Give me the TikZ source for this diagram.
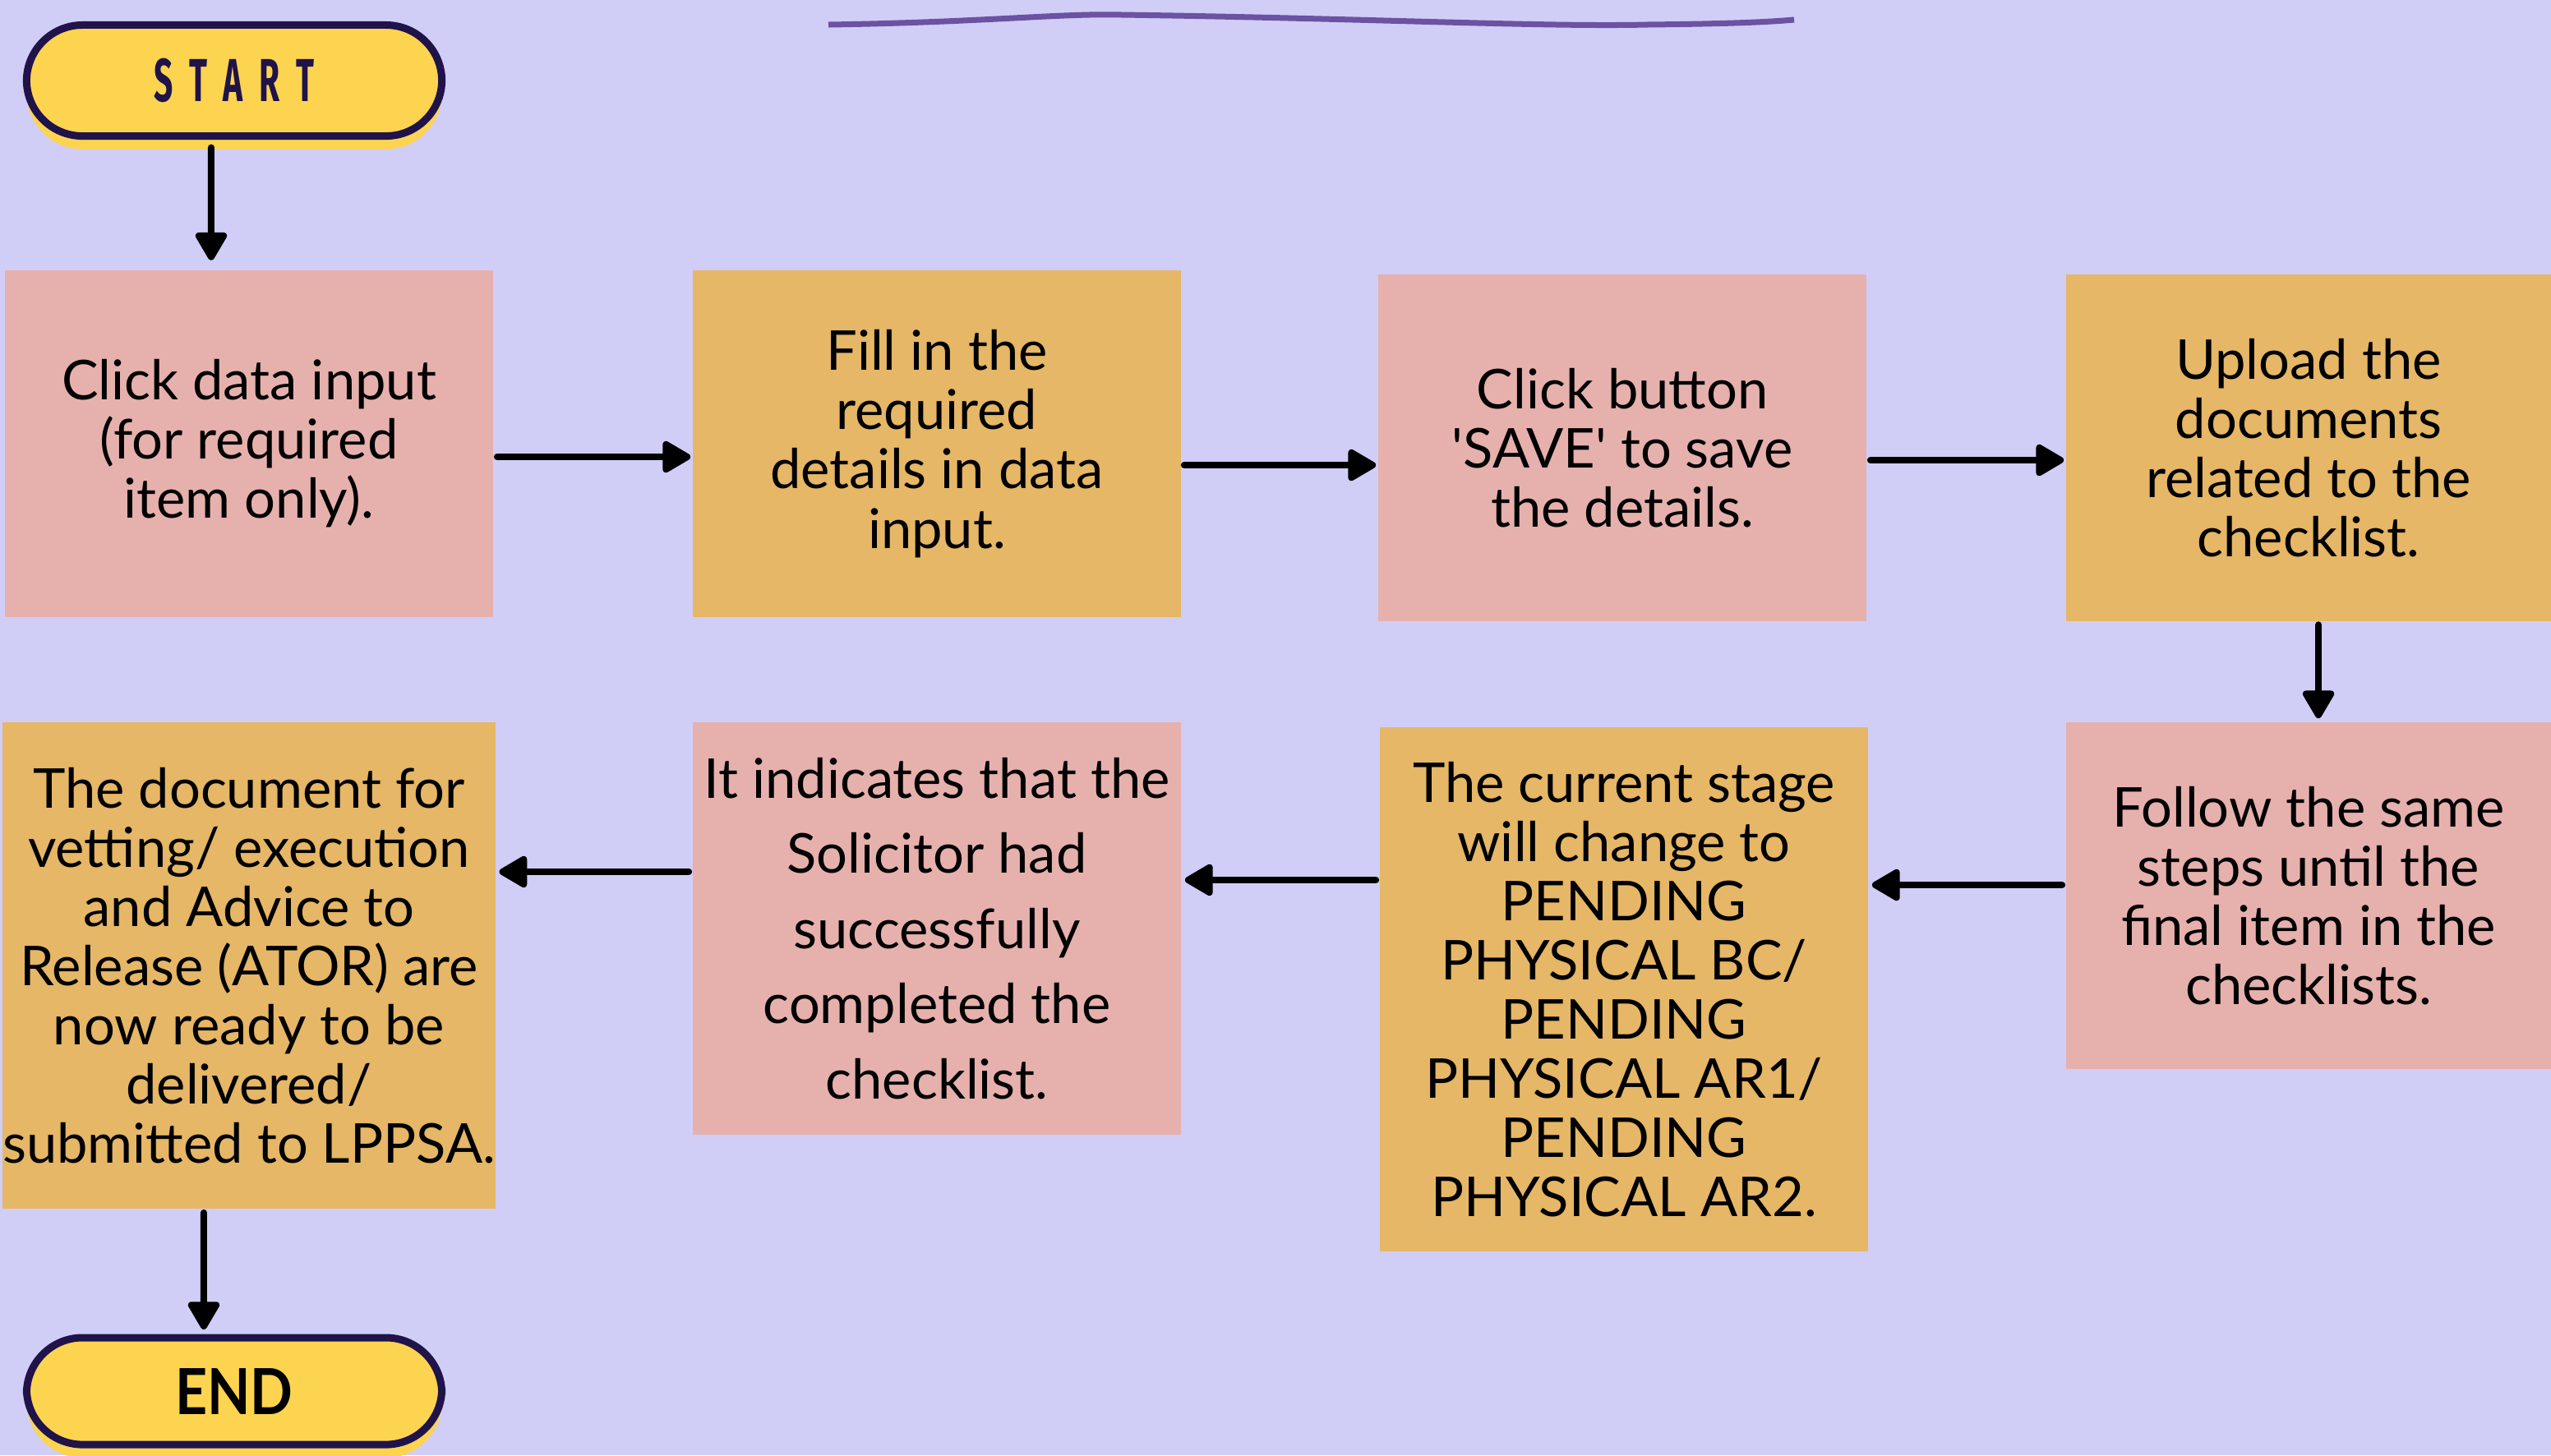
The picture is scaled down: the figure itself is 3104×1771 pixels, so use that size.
\documentclass[tikz,border=0pt]{standalone}
\usepackage{fontspec}
\setmainfont{Lato}
\newfontfamily\startfont[FakeStretch=0.55,LetterSpace=28]{Fira Sans}
\newfontfamily\endfont[FakeStretch=0.88]{Lato}
\usetikzlibrary{arrows.meta,shadows}
\definecolor{bgpurple}{HTML}{D0CEF7}
\definecolor{boxpink}{HTML}{E6B1AD}
\definecolor{boxorange}{HTML}{E5B766}
\definecolor{capyellow}{HTML}{FDD44F}
\definecolor{capnavy}{HTML}{20134A}
\definecolor{wavepurple}{HTML}{6B52A2}
\tikzset{
  capsule/.style={draw=capnavy, line width=0.09cm, fill=capyellow,
    rounded corners=0.68cm, minimum width=5.05cm, minimum height=1.35cm,
    drop shadow={shadow xshift=0cm, shadow yshift=-0.16cm, fill=capyellow, opacity=1}},
  stepbox/.style={inner sep=0pt, align=center, font=\fontsize{19}{20.5}\selectfont},
  pinkbox/.style={stepbox, fill=boxpink},
  orangebox/.style={stepbox, fill=boxorange},
  flowarrow/.style={-{Triangle[width=0.42cm,length=0.38cm,round]}, line width=0.08cm, line cap=round}
}
\begin{document}
\begin{tikzpicture}[x=0.01cm, y=-0.01cm]
  \useasboundingbox (0,0) rectangle (3104,1771);
  \fill[bgpurple] (0,0) rectangle (3104,1771);
  \draw[wavepurple, line width=0.07cm] (1008,30) .. controls (1200,27) and (1290,16) .. (1365,18)
    .. controls (1650,22) and (1880,33) .. (2003,30) .. controls (2100,29) and (2150,27) .. (2183,24);
  % terminals
  \node[capsule, text=capnavy, font=\startfont\bfseries\fontsize{21}{21}\selectfont] (start) at (285,98) {START};
  \node[capsule, minimum height=1.30cm, font=\endfont\bfseries\fontsize{22}{22}\selectfont] (finish) at (285,1693) {END};
  % top row
  \node[pinkbox, minimum width=5.94cm, minimum height=4.21cm] (input) at (303,540)
    {Click data input\\(for required\\item only).};
  \node[orangebox, minimum width=5.94cm, minimum height=4.21cm] (fill) at (1140,540)
    {Fill in the\\required\\details in data\\input.};
  \node[pinkbox, minimum width=5.94cm, minimum height=4.21cm] (save) at (1974,545)
    {Click button\\\textquotesingle SAVE\textquotesingle{} to save\\the details.};
  \node[orangebox, minimum width=5.90cm, minimum height=4.21cm] (upload) at (2809,545)
    {Upload the\\documents\\related to the\\checklist.};
  % bottom row
  \node[pinkbox, minimum width=5.90cm, minimum height=4.22cm] (repeat) at (2809,1090)
    {Follow the same\\steps until the\\final item in the\\checklists.};
  \node[orangebox, minimum width=5.94cm, minimum height=6.38cm] (stage) at (1976,1204)
    {The current stage\\will change to\\PENDING\\PHYSICAL BC/\\PENDING\\PHYSICAL AR1/\\PENDING\\PHYSICAL AR2.};
  \node[pinkbox, minimum width=5.94cm, minimum height=5.01cm, font=\fontsize{19}{26}\selectfont] (done) at (1140,1130)
    {It indicates that the\\Solicitor had\\successfully\\completed the\\checklist.};
  \node[orangebox, minimum width=5.94cm, minimum height=5.92cm] (ready) at (303,1175)
    {The document for\\vetting/ execution\\and Advice to\\Release (ATOR) are\\now ready to be\\delivered/\\submitted to LPPSA.};
  % arrows
  \draw[flowarrow] ([xshift=-0.28cm,yshift=-0.095cm]start.south) -- ([xshift=-0.46cm,yshift=0.12cm]input.north);
  \draw[flowarrow] ([xshift=0.04cm,yshift=-0.16cm]input.east) -- ([xshift=-0.02cm,yshift=-0.16cm]input.east -| fill.west);
  \draw[flowarrow] ([xshift=0.03cm,yshift=-0.26cm]fill.east) -- ([xshift=-0.02cm,yshift=-0.26cm]fill.east -| save.west);
  \draw[flowarrow] ([xshift=0.04cm,yshift=-0.15cm]save.east) -- ([xshift=-0.02cm,yshift=-0.15cm]save.east -| upload.west);
  \draw[flowarrow] ([xshift=0.12cm,yshift=-0.04cm]upload.south) -- ([xshift=0.12cm,yshift=0.04cm]repeat.north);
  \draw[flowarrow] ([xshift=-0.04cm,yshift=0.13cm]repeat.west) -- ([xshift=0.04cm,yshift=0.13cm]repeat.west -| stage.east);
  \draw[flowarrow] ([xshift=-0.04cm,yshift=1.33cm]stage.west) -- ([xshift=0.04cm,yshift=1.33cm]stage.west -| done.east);
  \draw[flowarrow] ([xshift=-0.04cm,yshift=0.69cm]done.west) -- ([xshift=0.04cm,yshift=0.69cm]done.west -| ready.east);
  \draw[flowarrow] ([xshift=-0.55cm,yshift=-0.04cm]ready.south) -- ([xshift=-0.37cm,yshift=0.055cm]finish.north);
\end{tikzpicture}
\end{document}
